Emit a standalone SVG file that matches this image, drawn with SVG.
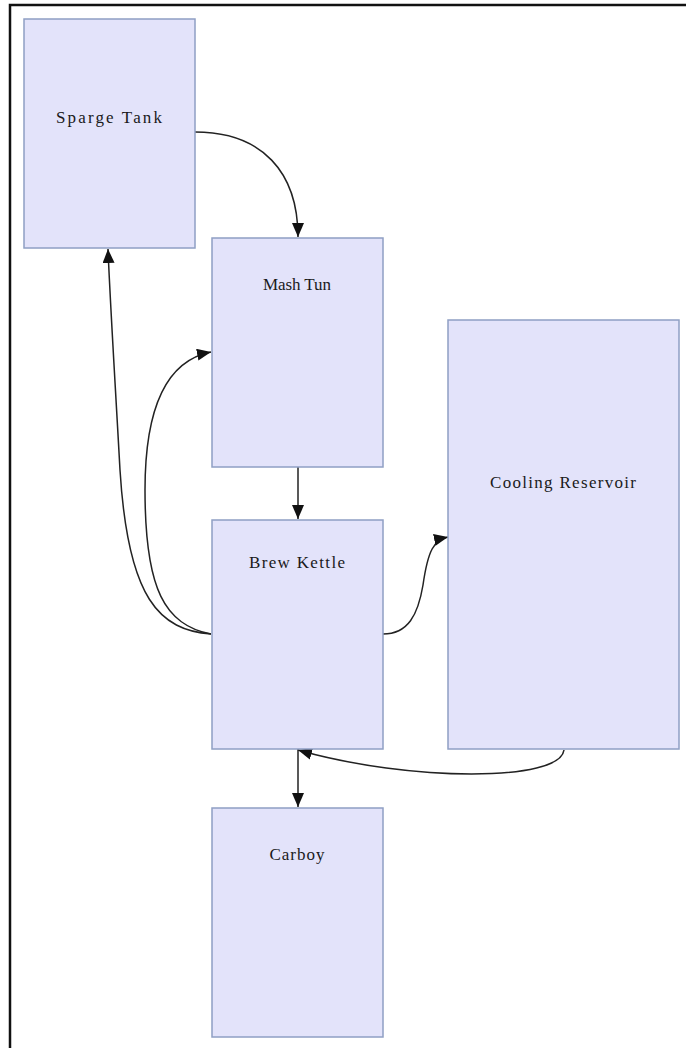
<svg xmlns="http://www.w3.org/2000/svg" width="686" height="1048" viewBox="0 0 686 1048">
  <style>
    .node rect { fill: #e3e3fa; stroke: #8f9fc4; stroke-width: 1.5; }
    .node text { font-family: "Liberation Serif", "Times New Roman", serif; font-size: 17px; fill: #1a1a1a; text-anchor: middle; }
    .edge { fill: none; stroke: #222; stroke-width: 1.5; }
  </style>
  <defs>
    <marker id="arrow" markerUnits="userSpaceOnUse" markerWidth="14" markerHeight="12" refX="14" refY="6" orient="auto">
      <path d="M0,0 L14,6 L0,12 Z" fill="#111"/>
    </marker>
  </defs>
  <rect width="686" height="1048" fill="#ffffff"/>
  <!-- frame -->
  <path d="M10,1048 L10,5 L686,5" fill="none" stroke="#111" stroke-width="2.5"/>

  <g id="connectors">
    <!-- Sparge Tank to Mash Tun -->
    <path class="edge" marker-end="url(#arrow)" d="M195,132 C262,132 298,172 298,237"/>
    <!-- Brew Kettle to Sparge Tank -->
    <path class="edge" marker-end="url(#arrow)" d="M211,634 C160,630 128,600 120,470 C115,380 110,300 108,249"/>
    <!-- Brew Kettle to Mash Tun -->
    <path class="edge" marker-end="url(#arrow)" d="M211,634 C165,625 145,590 145,490 C145,400 170,360 211,352"/>
    <!-- Mash Tun to Brew Kettle -->
    <path class="edge" marker-end="url(#arrow)" d="M298,467 L298,519"/>
    <!-- Brew Kettle to Cooling Reservoir -->
    <path class="edge" marker-end="url(#arrow)" d="M383,634 C408,634 418,615 423,585 C428,550 434,540 448,537"/>
    <!-- Cooling Reservoir to Brew Kettle -->
    <path class="edge" marker-end="url(#arrow)" d="M564,750 C560,782 410,782 298,750"/>
    <!-- Brew Kettle to Carboy -->
    <path class="edge" marker-end="url(#arrow)" d="M298,749 L298,807"/>
  </g>

  <g id="sparge-tank" class="node">
    <rect x="24" y="19" width="171" height="229"/>
    <text x="109" y="123" textLength="106" lengthAdjust="spacing">Sparge Tank</text>
  </g>
  <g id="mash-tun" class="node">
    <rect x="212" y="238" width="171" height="229"/>
    <text x="297" y="290" textLength="68" lengthAdjust="spacing">Mash Tun</text>
  </g>
  <g id="cooling-reservoir" class="node">
    <rect x="448" y="320" width="231" height="429"/>
    <text x="563" y="488" textLength="146" lengthAdjust="spacing">Cooling Reservoir</text>
  </g>
  <g id="brew-kettle" class="node">
    <rect x="212" y="520" width="171" height="229"/>
    <text x="297" y="568" textLength="96" lengthAdjust="spacing">Brew Kettle</text>
  </g>
  <g id="carboy" class="node">
    <rect x="212" y="808" width="171" height="229"/>
    <text x="297" y="860" textLength="55" lengthAdjust="spacing">Carboy</text>
  </g>
</svg>
